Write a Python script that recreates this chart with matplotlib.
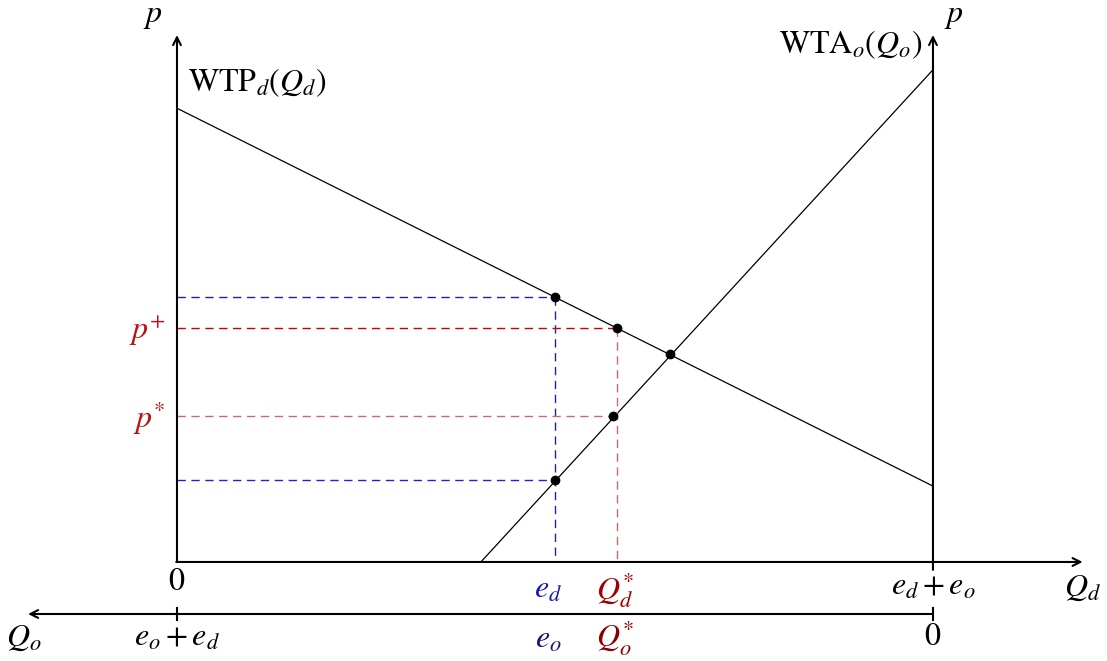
import matplotlib
matplotlib.use("Agg")
import matplotlib.pyplot as plt

plt.rcParams['mathtext.fontset'] = 'stix'
plt.rcParams['font.family'] = ['STIXGeneral', 'DejaVu Serif']

# ---- data (arbitrary units) ----
q_total = 10.0          # e_d + e_o
e_d = 5.0
q_star = 5.82
p_top = 10.0
wtp_x = [0.0, 10.0]
wtp_y = [8.61, 1.44]
wta_x = [4.02, 10.0]
wta_y = [0.0, 9.34]
pts_x = [5.0, 5.82, 6.52, 5.77, 5.0]
pts_y = [5.03, 4.44, 3.95, 2.77, 1.56]
p_plus = 4.44
p_star = 2.77
p_ed_wtp = 5.03
p_ed_wta = 1.56
lower_axis_y = -0.987

fig = plt.figure(figsize=(11.07, 6.61), dpi=100)
ax = fig.add_axes([0, 0, 1, 1])
ax.set_xlim(-2.341, 12.302)
ax.set_ylim(-1.879, 10.664)
ax.axis('off')

axis_kw = dict(arrowstyle='->', lw=1.5, color='black', mutation_scale=14,
               shrinkA=0, shrinkB=0)
# vertical axes
ax.annotate('', xy=(0, p_top), xytext=(0, 0), arrowprops=axis_kw)
ax.annotate('', xy=(q_total, p_top), xytext=(q_total, -0.15), arrowprops=axis_kw)
# Q_d axis
ax.annotate('', xy=(11.98, 0), xytext=(-0.01, 0), arrowprops=axis_kw)
# Q_o axis
ax.annotate('', xy=(-1.97, lower_axis_y), xytext=(q_total, lower_axis_y), arrowprops=axis_kw)
for xv in [0, q_total]:
    ax.plot([xv, xv], [lower_axis_y - 0.11, lower_axis_y + 0.11], color='black', lw=1.5)

# curves
ax.plot(wtp_x, wtp_y, color='black', lw=0.9)
ax.plot(wta_x, wta_y, color='black', lw=0.9)

dash = dict(lw=1.0, dashes=(6, 4))
navy = '#22229a'
blue = '#2222cc'
red = '#cc0000'
lred = '#cc6a6a'
ax.plot([0, e_d], [p_ed_wtp, p_ed_wtp], color=navy, **dash)
ax.plot([e_d, e_d], [p_ed_wtp, 0], color=navy, **dash)
ax.plot([0, q_star], [p_plus, p_plus], color=red, **dash)
ax.plot([q_star, q_star], [p_plus, 0], color=lred, **dash)
ax.plot([0, pts_x[3]], [p_star, p_star], color=lred, **dash)
ax.plot([0, e_d], [p_ed_wta, p_ed_wta], color=blue, **dash)

ax.plot(pts_x, pts_y, 'o', color='black', ms=6, zorder=5)

fs = 23
# labels
ax.text(-0.32, 10.36, r'$p$', fontsize=fs, ha='center', va='center')
ax.text(q_total + 0.27, 10.36, r'$p$', fontsize=fs, ha='center', va='center')
ax.text(0.14, 9.1, r'$\mathrm{WTP}_d(Q_d)$', fontsize=fs, ha='left', va='center')
ax.text(q_total - 0.14, 9.81, r'$\mathrm{WTA}_o(Q_o)$', fontsize=fs, ha='right', va='center')
ax.text(-0.15, p_plus - 0.04, r'$p^{+}$', fontsize=fs, ha='right', va='center', color='#b81414')
ax.text(-0.15, p_star - 0.04, r'$p^{*}$', fontsize=fs, ha='right', va='center', color='#b81414')

ax.text(0, -0.38, r'$0$', fontsize=fs, ha='center', va='center')
ax.text(e_d - 0.09, -0.53, r'$e_d$', fontsize=fs, ha='center', va='center', color='#1a1ab4')
ax.text(q_star - 0.03, -0.53, r'$Q_d^{*}$', fontsize=fs, ha='center', va='center', color='#a00000')
ax.text(q_total, -0.47, r'$e_d + e_o$', fontsize=fs, ha='center', va='center')
ax.text(11.98, -0.49, r'$Q_d$', fontsize=fs, ha='center', va='center')

ax.text(-2.02, -1.44, r'$Q_o$', fontsize=fs, ha='center', va='center')
ax.text(0, -1.44, r'$e_o + e_d$', fontsize=fs, ha='center', va='center')
ax.text(e_d - 0.09, -1.48, r'$e_o$', fontsize=fs, ha='center', va='center', color='#141478')
ax.text(q_star - 0.03, -1.44, r'$Q_o^{*}$', fontsize=fs, ha='center', va='center', color='#8a0000')
ax.text(q_total, -1.42, r'$0$', fontsize=fs, ha='center', va='center')

fig.savefig('out.png', dpi=100)
